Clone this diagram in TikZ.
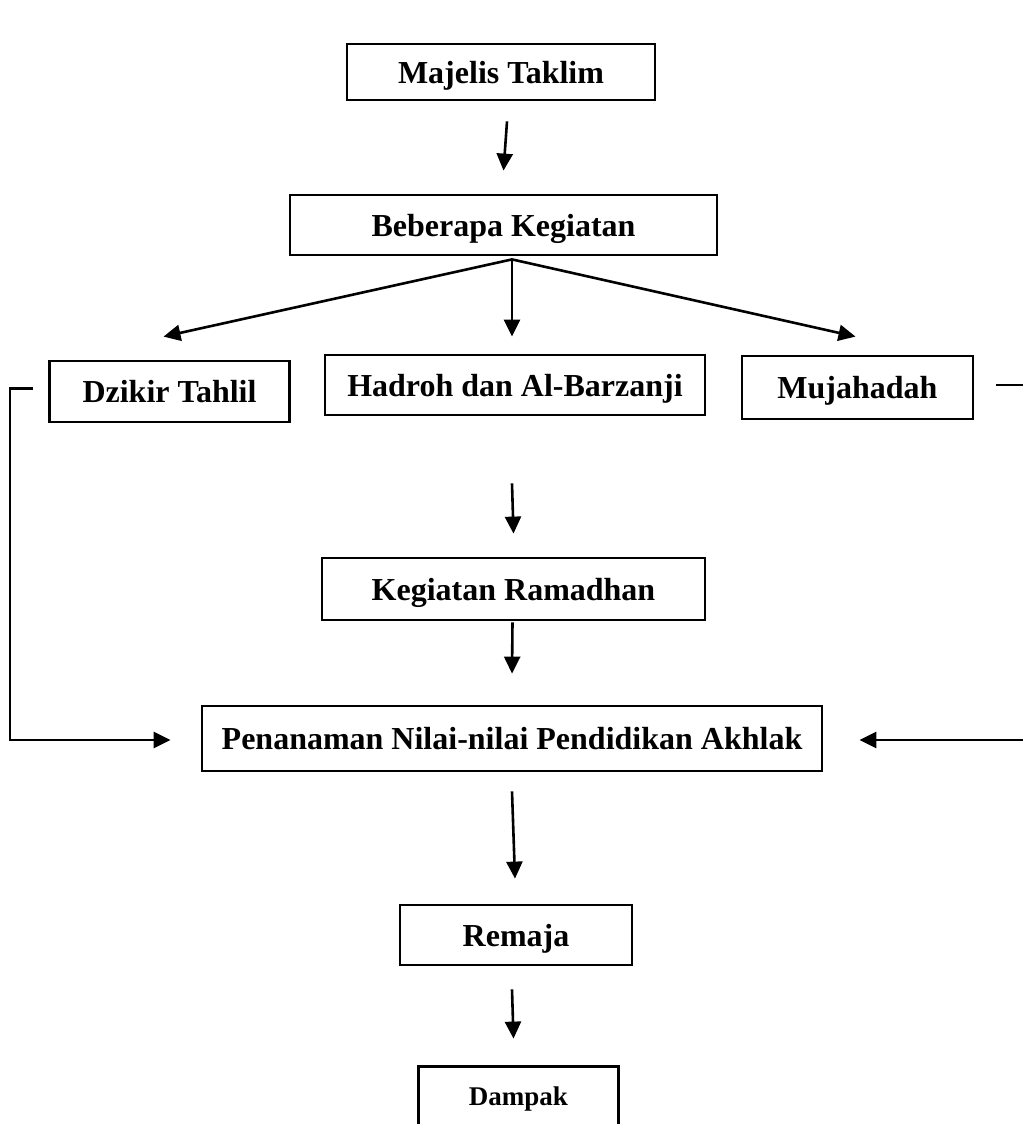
\documentclass[tikz,border=0pt]{standalone}
\usepackage{fontspec}
\setmainfont{Liberation Serif}
\usepackage{tikz}
\usetikzlibrary{arrows.meta, positioning, calc}

\begin{document}
\begin{tikzpicture}[
x=1pt, y=-1pt,
block/.style={draw, line width=2.8pt, inner sep=0pt, text height=24pt, text depth=2pt, font=\fontsize{32}{38}\selectfont\bfseries},
arrow/.style={-{Triangle[length=17pt, width=16pt]}, line width=2.6pt},
line/.style={line width=2.6pt}
]
\useasboundingbox (0,0) rectangle (1023,1124);

\node[block, minimum width=308pt, minimum height=56pt] (mt) at (501,72) {Majelis Taklim};
\node[block, minimum width=427pt, minimum height=60pt] (bk) at (503.5,225) {Beberapa Kegiatan};
\node[block, minimum width=240pt, minimum height=61pt] (dz) at (169.5,391.5) {Dzikir Tahlil};
\node[block, minimum width=380pt, minimum height=60pt] (hb) at (515,385) {Hadroh dan Al-Barzanji};
\node[block, minimum width=231pt, minimum height=63pt] (mj) at (857.5,387.5) {Mujahadah};
\node[block, minimum width=383pt, minimum height=62pt] (kr) at (513.5,589) {Kegiatan Ramadhan};
\node[block, minimum width=620pt, minimum height=65pt] (pn) at (512,738.5) {Penanaman Nilai-nilai Pendidikan Akhlak};
\node[block, minimum width=232pt, minimum height=60pt] (rm) at (516,935) {Remaja};
\node[block, draw=none, minimum width=197pt, minimum height=62pt, text height=20pt, text depth=8pt, font=\fontsize{27}{32}\selectfont\bfseries] (dp) at (518.5,1099) {Dampak};
\draw[line width=2.8pt] (dp.south west) |- (dp.north east) -- (dp.south east);

\coordinate (fan) at ([xshift=8.5pt,yshift=-3pt]bk.south);
\coordinate (re1) at (1023,385);
\coordinate (re2) at (1023,740);

% alur utama
\draw[arrow] ([xshift=6pt,yshift=-20pt]mt.south) -- ([yshift=23pt]bk.north);
\draw[arrow] (fan) -- ([xshift=-6pt,yshift=23pt]dz.north);
\draw[arrow] (fan) -- ([xshift=-3pt,yshift=17pt]hb.north);
\draw[arrow] (fan) -- ([xshift=-2pt,yshift=18pt]mj.north);
\draw[arrow] ([xshift=-3pt,yshift=-67pt]hb.south) -- ([yshift=23pt]kr.north);
\draw[arrow] ([xshift=-1pt,yshift=-1pt]kr.south) -- ([yshift=31pt]pn.north);
\draw[arrow] ([yshift=-19pt]pn.south) -- ([xshift=-1pt,yshift=25pt]rm.north);
\draw[arrow] ([xshift=-4pt,yshift=-23pt]rm.south) -- ([xshift=-5pt,yshift=28pt]dp.north);

% jalur samping
\draw[arrow] ([xshift=-15pt,yshift=3pt]dz.west) -- ++(-23,0) |- ([xshift=-30pt,yshift=-1.5pt]pn.west);
\draw[line] ([xshift=22pt,yshift=2.5pt]mj.east) -- (re1);
\draw[arrow] (re2) -- ([xshift=36pt,yshift=-1.5pt]pn.east);
\end{tikzpicture}
\end{document}
